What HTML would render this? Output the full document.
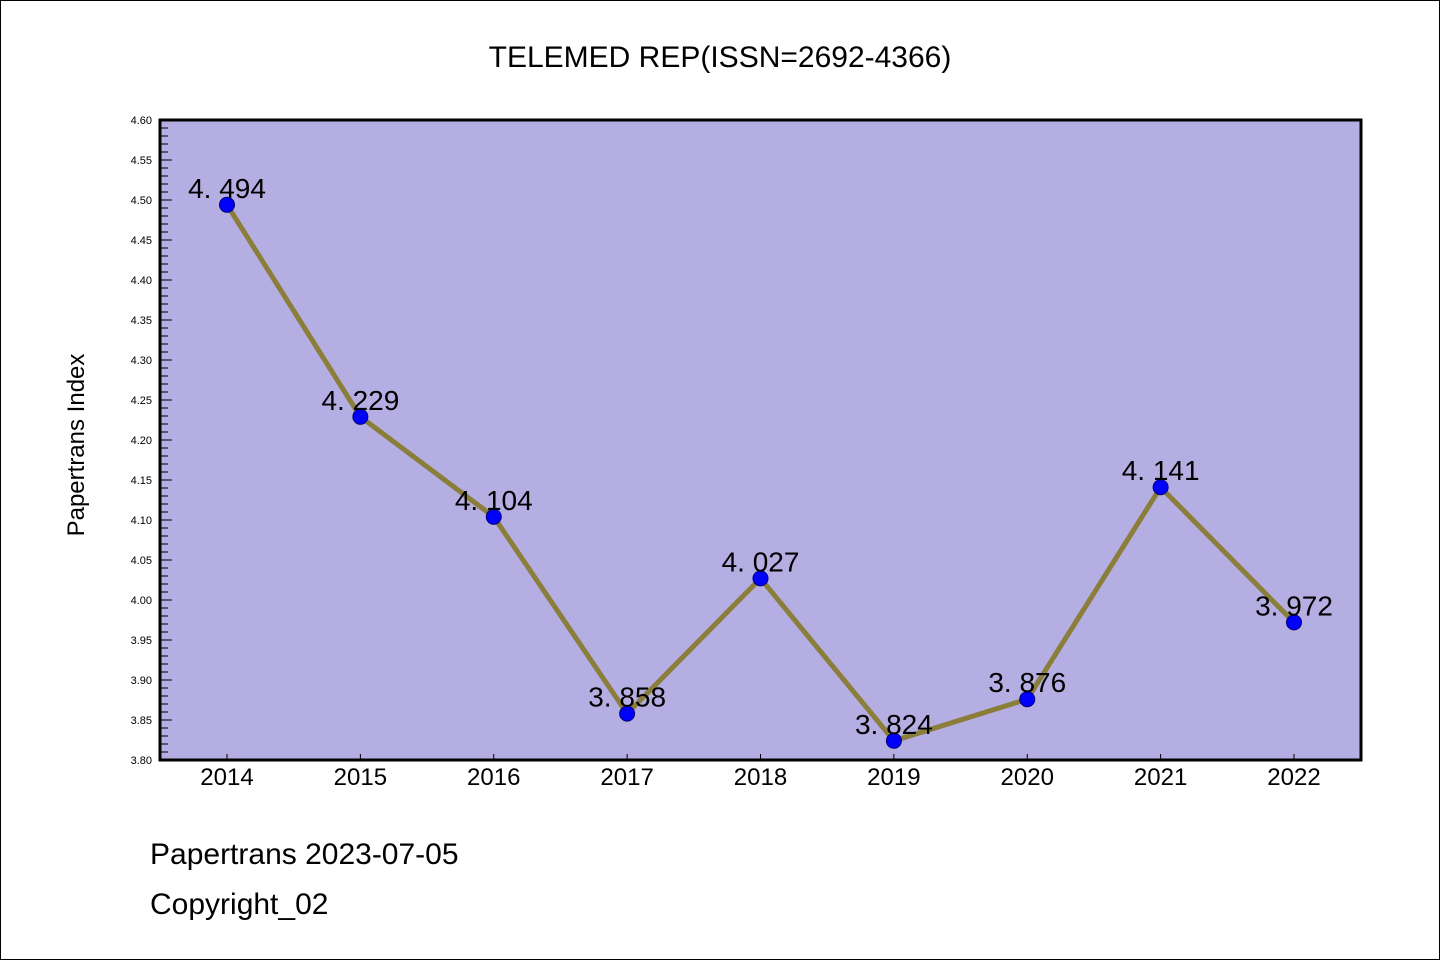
<!DOCTYPE html>
<html><head><meta charset="utf-8"><style>
html,body{margin:0;padding:0;background:#fff}
svg{display:block}
text{font-family:"WenQuanYi Zen Hei","Liberation Sans",sans-serif}
</style></head><body>
<svg id="chart" width="1440" height="960" xmlns="http://www.w3.org/2000/svg">
<rect x="0.5" y="0.5" width="1439" height="959" fill="#fff" stroke="#000"/>
<text x="720" y="67" font-size="30" text-anchor="middle">TELEMED REP(ISSN=2692-4366)</text>
<rect x="160" y="120" width="1201" height="640" fill="#b5aee2"/>
<g id="axes"></g>
<g id="series"></g>
<rect x="160" y="120" width="1201" height="640" fill="none" stroke="#000" stroke-width="3"/>
<text transform="translate(84,445) rotate(-90)" font-size="24" text-anchor="middle">Papertrans Index</text>
<text x="150" y="864" font-size="30">Papertrans 2023-07-05</text>
<text x="150" y="914" font-size="30">Copyright_02</text>
</svg>
<script>
const categories=["2014","2015","2016","2017","2018","2019","2020","2021","2022"];
const values=[4.494,4.229,4.104,3.858,4.027,3.824,3.876,4.141,3.972];
const valueLabels=["4. 494","4. 229","4. 104","3. 858","4. 027","3. 824","3. 876","4. 141","3. 972"];
const yMin=3.80,yMax=4.60;
const NS="http://www.w3.org/2000/svg";
function y(v){return 760-(v-yMin)/(yMax-yMin)*640;}
function x(i){return 227+i*(1294-227)/(categories.length-1);}
function mk(t,a,p){const e=document.createElementNS(NS,t);for(const k in a)e.setAttribute(k,a[k]);p.appendChild(e);return e;}
const axes=document.getElementById('axes'),ser=document.getElementById('series');
for(let k=0;k<=80;k++){
  const v=yMin+k*0.01,yy=y(v),major=k%5===0;
  const t=mk('line',{x1:160,x2:160+(major?12:8),y1:yy,y2:yy,stroke:'#000','stroke-width':1},axes);
  
  
  if(major){const l=mk('text',{x:152,y:yy+4,'font-size':11,'text-anchor':'end'},axes);l.textContent=v.toFixed(2);
  
  }
}
categories.forEach((c,i)=>{
  const t=mk('line',{x1:x(i),x2:x(i),y1:760,y2:754,stroke:'#000','stroke-width':1},axes);
  
  
  const l=mk('text',{x:x(i),y:785,'font-size':24,'text-anchor':'middle'},axes);l.textContent=c;
  
  
});
const pts=values.map((v,i)=>x(i)+','+y(v)).join(' ');
const pl=mk('polyline',{points:pts,fill:'none',stroke:'#8b7d3a','stroke-width':5},ser);


values.forEach((v,i)=>{
  const c=mk('circle',{cx:x(i),cy:y(v),r:7.5,fill:'#0000ff',stroke:'#00007a','stroke-width':1},ser);
  
  
  const l=mk('text',{x:x(i),y:y(v)-7,'font-size':28,'text-anchor':'middle'},ser);l.textContent=valueLabels[i];
  
  
});
</script>
</body></html>
